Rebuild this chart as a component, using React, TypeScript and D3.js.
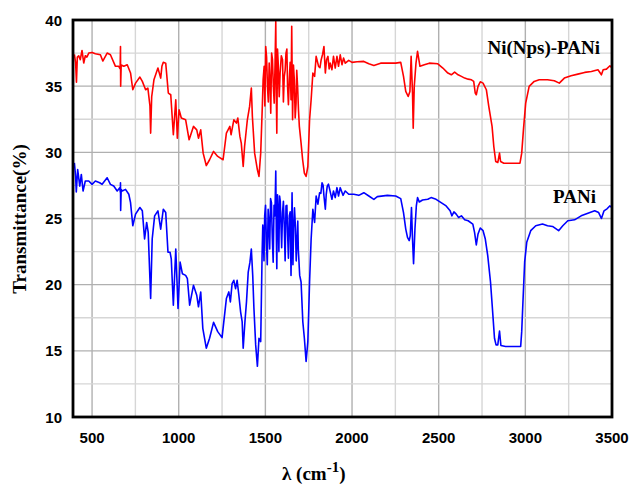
import React from "react";
import * as d3 from "d3";

const xTicks = [500, 1000, 1500, 2000, 2500, 3000, 3500];
const yTicks = [10, 15, 20, 25, 30, 35, 40];
const xGrid = [500, 750, 1000, 1250, 1500, 1750, 2000, 2250, 2500, 2750, 3000, 3250];
const yGrid = [12.5, 15, 17.5, 20, 22.5, 25, 27.5, 30, 32.5, 35, 37.5];

const redWavenumbers = [398, 405, 410, 415, 423, 432, 442, 452, 461, 470, 481, 500, 519, 548, 562, 587, 606, 635, 654, 662, 664, 665, 668, 683, 703, 722, 735, 751, 776, 790, 809, 822, 834, 838, 844, 857, 880, 896, 903, 911, 925, 940, 954, 969, 983, 992, 1002, 1015, 1040, 1060, 1085, 1104, 1114, 1127, 1141, 1159, 1178, 1201, 1225, 1256, 1275, 1295, 1302, 1318, 1333, 1341, 1353, 1361, 1372, 1380, 1396, 1409, 1419, 1425, 1438, 1454, 1463, 1473, 1483, 1493, 1502, 1512, 1522, 1531, 1541, 1551, 1560, 1566, 1574, 1585, 1599, 1609, 1619, 1628, 1638, 1648, 1652, 1657, 1667, 1677, 1686, 1696, 1706, 1715, 1725, 1735, 1745, 1755, 1764, 1774, 1784, 1793, 1807, 1822, 1838, 1846, 1861, 1874, 1884, 1893, 1903, 1913, 1922, 1932, 1942, 1951, 1961, 1981, 2000, 2029, 2068, 2097, 2126, 2165, 2204, 2252, 2281, 2297, 2310, 2324, 2334, 2341, 2349, 2353, 2359, 2369, 2378, 2392, 2417, 2446, 2495, 2524, 2553, 2573, 2592, 2612, 2631, 2650, 2670, 2689, 2702, 2711, 2717, 2727, 2740, 2756, 2775, 2789, 2808, 2818, 2829, 2841, 2851, 2857, 2876, 2915, 2969, 2979, 2989, 3002, 3022, 3051, 3080, 3128, 3167, 3196, 3225, 3264, 3303, 3342, 3381, 3419, 3439, 3449, 3468, 3488, 3500];
const redValues = [37.4, 36.8, 35.3, 37.2, 37.3, 37.0, 37.7, 36.75, 37.3, 37.2, 37.5, 37.55, 37.45, 37.37, 36.9, 37.5, 37.37, 36.5, 36.5, 36.3, 38.0, 35.0, 36.6, 36.5, 36.62, 36.0, 34.73, 35.23, 35.69, 35.36, 34.73, 34.85, 33.5, 31.45, 34.2, 35.48, 36.37, 35.61, 36.5, 36.8, 36.74, 34.48, 34.35, 31.33, 33.97, 31.07, 33.22, 32.59, 32.46, 30.95, 31.96, 31.7, 31.07, 31.7, 29.94, 29.0, 29.44, 30.07, 29.69, 29.44, 31.45, 31.96, 31.33, 32.46, 32.21, 32.59, 31.2, 30.7, 28.93, 30.44, 32.46, 33.47, 34.85, 32.71, 29.94, 28.68, 28.18, 29.94, 33.72, 36.5, 38.0, 34.98, 36.74, 32.96, 37.0, 33.72, 39.89, 31.45, 36.74, 35.99, 37.0, 35.74, 37.5, 34.98, 35.48, 33.97, 39.52, 32.46, 35.48, 33.72, 34.98, 31.96, 30.7, 29.44, 28.43, 28.18, 28.93, 32.46, 33.97, 35.99, 35.74, 37.25, 36.5, 37.0, 38.0, 35.99, 37.25, 36.74, 36.24, 37.25, 36.37, 37.25, 36.5, 37.37, 36.62, 37.12, 36.74, 36.95, 36.8, 36.84, 36.87, 36.69, 36.57, 36.74, 36.74, 36.74, 36.8, 35.74, 34.6, 34.22, 34.6, 37.25, 34.48, 31.83, 34.98, 36.74, 37.63, 36.5, 36.62, 36.74, 36.69, 36.37, 35.99, 35.86, 36.06, 35.86, 35.74, 35.61, 35.53, 35.48, 35.36, 34.48, 34.35, 34.98, 35.33, 35.23, 34.73, 33.47, 31.96, 30.44, 29.31, 29.23, 29.94, 29.31, 29.18, 29.18, 29.18, 29.94, 31.7, 33.72, 34.98, 35.36, 35.48, 35.48, 35.41, 35.23, 35.61, 35.79, 35.91, 36.04, 36.11, 36.24, 35.86, 36.24, 36.29, 36.54, 36.37];
// extra readings inside the dense noisy band (1480-1700 cm-1)
const redNoiseWavenumbers = [1487, 1497, 1507, 1517, 1527, 1536, 1546, 1556, 1563, 1570, 1580, 1592, 1604, 1614, 1624, 1633, 1643, 1662, 1672, 1681, 1691, 1815, 1830, 1853, 1868];
const redNoiseValues = [35.5, 33.5, 37.2, 33.8, 35.2, 37.5, 35.0, 36.8, 34.5, 37.8, 34.2, 37.3, 33.8, 36.2, 37.8, 33.6, 36.8, 36.6, 32.6, 36.2, 33.2, 36.4, 37.4, 37.0, 36.3];

const blueWavenumbers = [398, 405, 409, 417, 429, 438, 448, 461, 481, 500, 519, 544, 558, 587, 606, 625, 645, 660, 663, 664, 665, 668, 674, 693, 712, 722, 735, 751, 776, 790, 803, 815, 824, 838, 847, 861, 880, 896, 911, 925, 938, 950, 957, 969, 983, 996, 1008, 1021, 1040, 1050, 1063, 1085, 1104, 1114, 1127, 1139, 1159, 1178, 1201, 1225, 1250, 1275, 1289, 1298, 1308, 1318, 1328, 1337, 1347, 1357, 1366, 1372, 1382, 1391, 1401, 1411, 1419, 1427, 1434, 1444, 1454, 1463, 1473, 1481, 1488, 1496, 1506, 1516, 1525, 1535, 1545, 1555, 1560, 1566, 1574, 1582, 1589, 1599, 1609, 1619, 1628, 1638, 1648, 1654, 1663, 1673, 1683, 1690, 1698, 1706, 1716, 1725, 1735, 1745, 1755, 1764, 1774, 1784, 1793, 1803, 1813, 1827, 1838, 1846, 1857, 1871, 1884, 1893, 1903, 1913, 1922, 1932, 1948, 1961, 1981, 2010, 2039, 2068, 2097, 2126, 2146, 2204, 2252, 2281, 2297, 2310, 2320, 2330, 2336, 2343, 2349, 2355, 2363, 2371, 2378, 2388, 2407, 2437, 2456, 2485, 2514, 2543, 2566, 2576, 2588, 2601, 2615, 2631, 2650, 2670, 2697, 2707, 2717, 2727, 2740, 2756, 2769, 2783, 2799, 2810, 2822, 2831, 2841, 2851, 2859, 2886, 2934, 2973, 2979, 2987, 2996, 3008, 3031, 3060, 3099, 3128, 3157, 3192, 3216, 3245, 3284, 3322, 3361, 3400, 3423, 3439, 3454, 3473, 3487, 3500];
const blueValues = [29.2, 28.2, 27.0, 28.7, 27.45, 28.33, 27.08, 27.83, 27.83, 27.58, 27.83, 27.7, 27.58, 28.08, 27.58, 27.45, 27.08, 27.33, 27.0, 27.7, 25.6, 27.2, 27.08, 27.2, 26.83, 26.2, 24.45, 25.33, 25.83, 25.58, 23.45, 24.7, 23.95, 18.95, 23.45, 25.2, 25.58, 24.2, 25.7, 25.45, 22.45, 22.45, 21.95, 18.45, 22.7, 18.2, 21.7, 20.83, 20.7, 20.45, 18.45, 19.95, 19.2, 18.33, 19.45, 16.7, 15.2, 15.95, 17.15, 16.45, 16.0, 18.95, 19.45, 18.7, 20.08, 20.33, 19.7, 20.33, 19.2, 17.95, 17.2, 15.2, 17.2, 18.7, 20.95, 21.7, 22.7, 20.7, 18.2, 15.45, 13.83, 15.95, 15.7, 22.2, 23.7, 25.2, 23.2, 25.7, 22.7, 26.2, 21.7, 25.2, 28.58, 21.2, 25.45, 26.7, 24.95, 25.45, 24.45, 25.95, 23.95, 25.2, 20.7, 26.95, 24.2, 24.45, 23.45, 22.7, 20.7, 20.2, 17.2, 15.95, 14.2, 15.7, 20.2, 23.45, 25.7, 24.7, 26.7, 26.08, 26.95, 27.7, 26.7, 25.7, 27.45, 27.2, 26.45, 27.08, 26.58, 27.33, 26.7, 27.33, 26.75, 27.08, 26.83, 26.83, 26.75, 26.95, 26.7, 26.45, 26.65, 26.75, 26.7, 26.5, 25.45, 24.2, 23.58, 23.33, 23.7, 25.83, 23.45, 21.58, 24.2, 25.95, 26.58, 26.25, 26.4, 26.45, 26.58, 26.45, 26.2, 25.95, 25.58, 25.2, 25.5, 25.33, 25.08, 25.2, 24.9, 24.83, 24.58, 23.95, 23.0, 23.83, 24.28, 24.08, 23.45, 22.2, 20.2, 18.2, 15.95, 15.45, 15.45, 16.5, 15.4, 15.33, 15.33, 15.33, 16.45, 18.95, 21.7, 23.2, 24.08, 24.45, 24.58, 24.45, 24.4, 24.08, 24.45, 24.83, 24.9, 25.2, 25.4, 25.58, 25.45, 25.0, 25.58, 25.75, 25.95, 25.83];
const blueNoiseWavenumbers = [1485, 1492, 1501, 1511, 1520, 1530, 1540, 1550, 1563, 1570, 1578, 1586, 1594, 1604, 1614, 1624, 1633, 1643, 1659, 1668, 1678, 1687, 1820, 1833, 1851, 1864];
const blueNoiseValues = [24.5, 21.8, 26.0, 21.5, 24.8, 26.5, 23.5, 26.0, 24.0, 26.8, 22.5, 26.3, 22.8, 26.3, 21.8, 26.0, 22.0, 25.5, 21.5, 25.8, 21.8, 24.8, 26.9, 27.5, 26.8, 27.6];

const seriesNames = ["Ni(Nps)-PANi", "PANi"];
const xTitle = "λ (cm";
const xTitleSup = "-1";
const yTitle = "Transmittance(%)";

const W = 632, H = 484;
const left = 73, right = 612, top = 20, bottom = 417;

function buildSeries(ws: number[], vs: number[], nw: number[], nv: number[]): [number, number][] {
  const pts: [number, number][] = ws.map((w, i) => [w, vs[i]] as [number, number]);
  nw.forEach((w, i) => pts.push([w, nv[i]]));
  return d3.sort(pts, (a, b) => a[0] - b[0]);
}

export default function App() {
  const x = d3.scaleLinear().domain([390, 3500]).range([left, right]);
  const y = d3.scaleLinear().domain([10, 40]).range([bottom, top]);
  const line = d3.line<[number, number]>().x(d => x(d[0])).y(d => y(d[1]));
  const red = buildSeries(redWavenumbers, redValues, redNoiseWavenumbers, redNoiseValues);
  const blue = buildSeries(blueWavenumbers, blueValues, blueNoiseWavenumbers, blueNoiseValues);
  const sans = "'Liberation Sans', Arial, sans-serif";
  const serif = "'Liberation Serif', 'Times New Roman', serif";
  return (
    <svg width={W} height={H} style={{ position: "absolute", left: 0, top: 0, background: "#fff" }}>
      <rect x={0} y={0} width={W} height={H} fill="#fff" />
      {xGrid.map(g => (
        <line key={"xg" + g} x1={x(g)} x2={x(g)} y1={top} y2={bottom}
          stroke={g % 500 === 0 ? "#b0b0b0" : "#d6d6d6"} strokeWidth={1.4} />
      ))}
      {yGrid.map(g => (
        <line key={"yg" + g} x1={left} x2={right} y1={y(g)} y2={y(g)}
          stroke={g % 5 === 0 ? "#b0b0b0" : "#d6d6d6"} strokeWidth={1.4} />
      ))}
      <path d={line(red) || ""} fill="none" stroke="#ff0000" strokeWidth={1.6} strokeLinejoin="round" />
      <path d={line(blue) || ""} fill="none" stroke="#0000ff" strokeWidth={1.6} strokeLinejoin="round" />
      <rect x={left} y={top} width={right - left} height={bottom - top} fill="none" stroke="#000" strokeWidth={2.8} />
      {yTicks.map(t => (
        <text key={"yt" + t} x={62} y={y(t) + 5.5} textAnchor="end" fontFamily={sans}
          fontWeight="bold" fontSize={15} fill="#000">{t}</text>
      ))}
      {xTicks.map(t => (
        <text key={"xt" + t} x={x(t)} y={443} textAnchor="middle" fontFamily={sans}
          fontWeight="bold" fontSize={15} fill="#000">{t}</text>
      ))}
      <text x={600} y={54} textAnchor="end" fontFamily={serif} fontWeight="bold" fontSize={19} fill="#000">{seriesNames[0]}</text>
      <text x={596} y={203} textAnchor="end" fontFamily={serif} fontWeight="bold" fontSize={19} fill="#000">{seriesNames[1]}</text>
      <text transform={`translate(26, 219) rotate(-90)`} textAnchor="middle" fontFamily={serif}
        fontWeight="bold" fontSize={19} fill="#000">{yTitle}</text>
      <text x={282} y={480} fontFamily={serif} fontWeight="bold" fontSize={19} fill="#000">
        {xTitle}
        <tspan dy={-8} fontSize={15}>{xTitleSup}</tspan>
        <tspan dy={8} fontSize={19}>)</tspan>
      </text>
    </svg>
  );
}
